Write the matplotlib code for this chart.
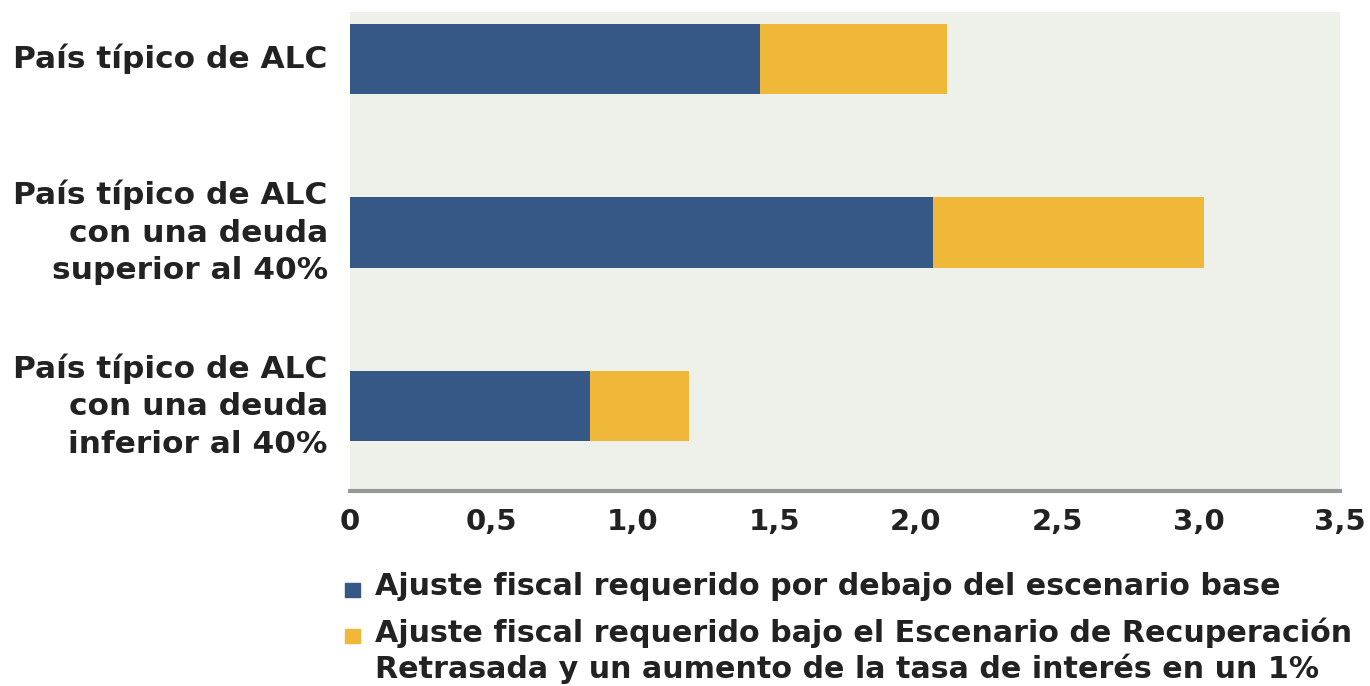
import numpy as np
import matplotlib.pyplot as plt
from matplotlib.patches import Rectangle

# data
categories = ['País típico de ALC',
              'País típico de ALC\ncon una deuda\nsuperior al 40%',
              'País típico de ALC\ncon una deuda\ninferior al 40%']
base_adj = [1.45, 2.06, 0.85]
extra_adj = [0.66, 0.96, 0.35]
tick_vals = [0, 0.5, 1.0, 1.5, 2.0, 2.5, 3.0, 3.5]
tick_labels = ['0', '0,5', '1,0', '1,5', '2,0', '2,5', '3,0', '3,5']
legend_labels = ['Ajuste fiscal requerido por debajo del escenario base',
                 'Ajuste fiscal requerido bajo el Escenario de Recuperación\n'
                 'Retrasada y un aumento de la tasa de interés en un 1%']

BLUE = '#365887'
YELLOW = '#f0b838'
BG = '#edf1ea'
TXT = '#222222'

fig = plt.figure(figsize=(13.7, 6.86), dpi=100)
ax = fig.add_axes([350 / 1370, 1 - 491 / 686, 990 / 1370, 479 / 686])
ax.set_facecolor(BG)

ind = np.arange(len(categories))
ax.barh(ind, base_adj, height=0.405, color=BLUE)
ax.barh(ind, extra_adj, left=base_adj, height=0.405, color=YELLOW)

ax.set_xlim(0, 3.5)
ax.set_ylim(2.49, -0.27)

for s in ['top', 'right', 'left']:
    ax.spines[s].set_visible(False)
ax.spines['bottom'].set_color('#999999')
ax.spines['bottom'].set_linewidth(3)

ax.set_xticks(tick_vals)
ax.set_xticklabels(tick_labels, fontsize=21, fontweight='bold', color=TXT)
ax.set_yticks(ind)
ax.set_yticklabels(categories, fontsize=22.5, fontweight='bold', color=TXT,
                   linespacing=1.37)
for lbl in ax.get_yticklabels():
    lbl.set_va('center')
ax.tick_params(axis='both', length=0)
ax.tick_params(axis='x', pad=12)
ax.tick_params(axis='y', pad=16)

# legend
colors = [BLUE, YELLOW]
ys = [590, 636]
for c, lab, yy in zip(colors, legend_labels, ys):
    fig.add_artist(Rectangle((345 / 1370, 1 - (yy + 7) / 686), 15 / 1370, 14 / 686,
                             transform=fig.transFigure, color=c))
    fig.text(375 / 1370, 1 - (yy - 18) / 686, lab, fontsize=21.7, fontweight='bold',
             color=TXT, va='top', ha='left', linespacing=1.2)

fig.savefig('out.png', dpi=100)
